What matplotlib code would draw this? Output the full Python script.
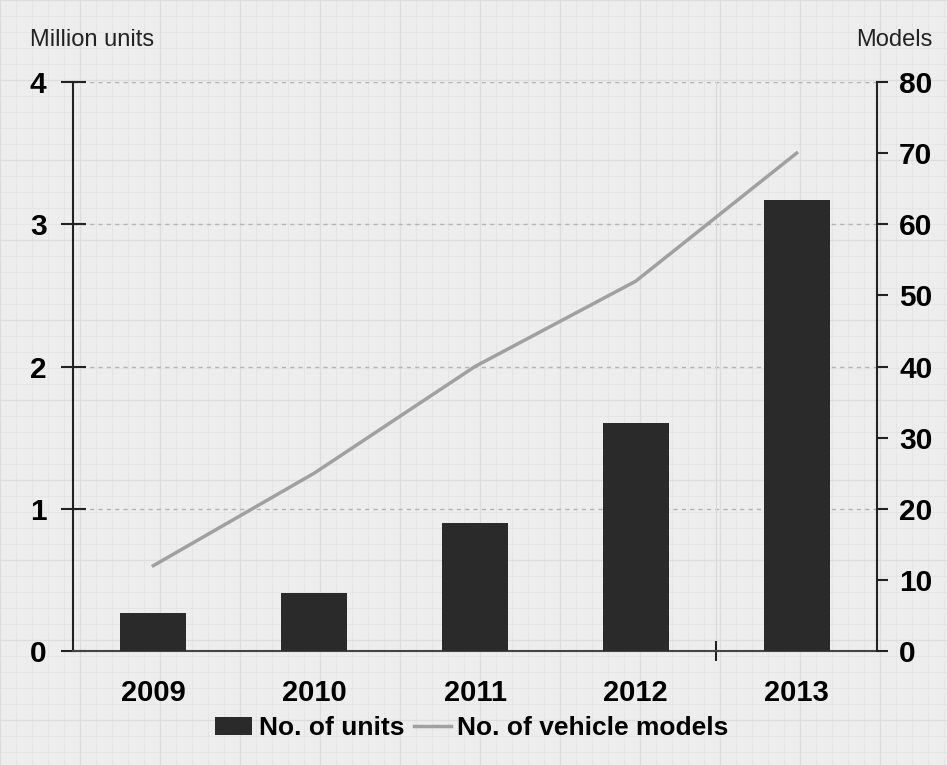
import matplotlib
matplotlib.use("Agg")
import matplotlib.pyplot as plt
import numpy as np
from matplotlib.patches import Patch
from matplotlib.lines import Line2D

years = ["2009", "2010", "2011", "2012", "2013"]
units = [0.27, 0.41, 0.90, 1.60, 3.17]
models = [12, 25, 40, 52, 70]
left_ticks = [0, 1, 2, 3, 4]
right_ticks = [0, 10, 20, 30, 40, 50, 60, 70, 80]

plt.rcParams['font.family'] = ['Liberation Sans', 'DejaVu Sans']

fig = plt.figure(figsize=(9.47, 7.65), dpi=100)
fig.patch.set_facecolor('#eeeeee')

# graph-paper background
bg = fig.add_axes([0, 0, 1, 1], zorder=-5)
bg.set_xlim(0, 947)
bg.set_ylim(765, 0)
bg.set_facecolor('#ededed')
for v in np.arange(0, 947, 16):
    bg.axvline(v, color='#e4e4e4', lw=0.6)
for v in np.arange(0, 765, 16):
    bg.axhline(v, color='#e4e4e4', lw=0.6)
for v in np.arange(0, 947, 80):
    bg.axvline(v, color='#dddddd', lw=0.9)
for v in np.arange(0, 765, 80):
    bg.axhline(v, color='#dddddd', lw=0.9)
bg.set_xticks([]); bg.set_yticks([])
for s in bg.spines.values():
    s.set_visible(False)

ax = fig.add_axes([73/947, 1-651/765, (877-73)/947, (651-82)/765])
ax.patch.set_alpha(0)
x = np.arange(len(years))
ax.bar(x, units, width=0.41, color='#2a2a2a', zorder=3)
ax.set_xlim(-0.5, 4.5)
ax.set_ylim(0, 4)
ax.set_yticks(left_ticks)
ax.set_yticklabels([str(t) for t in left_ticks], fontsize=21.5, fontweight='bold')
ax.set_xticks(x)
ax.set_xticklabels(years, fontsize=21, fontweight='bold')
ax.tick_params(axis='x', length=0, pad=20)
ax.set_xticks([3.5], minor=True)
ax.tick_params(axis='x', which='minor', direction='inout', length=14, width=1.5, color='#222222')
ax.tick_params(axis='y', direction='inout', length=18, width=1.5, color='#222222', pad=10)
for t in left_ticks[1:]:
    ax.axhline(t, color='#b4b4b4', lw=1.0, ls=(0, (3, 3)), zorder=1)
ax.axvline(3.5, color='#d8d8d8', lw=0.8, zorder=1)
ax.spines['top'].set_visible(False)
ax.spines['right'].set_visible(False)
ax.spines['left'].set_color('#222222')
ax.spines['left'].set_linewidth(1.5)
ax.spines['bottom'].set_color('#444444')
ax.spines['bottom'].set_linewidth(1.5)

ax2 = ax.twinx()
ax2.plot(x, models, color='#a0a0a0', lw=2.5, zorder=4)
ax2.set_ylim(0, 80)
ax2.set_yticks(right_ticks)
ax2.set_yticklabels([str(t) for t in right_ticks], fontsize=21.5, fontweight='bold')
ax2.tick_params(axis='y', direction='out', length=8, width=1.5, color='#222222', pad=8)
ax2.spines['top'].set_visible(False)
ax2.spines['left'].set_visible(False)
ax2.spines['bottom'].set_visible(False)
ax2.spines['right'].set_color('#222222')
ax2.spines['right'].set_linewidth(1.5)

fig.text(30/947, 1-40/765, "Million units", fontsize=17, va='center', ha='left', color='#222222')
fig.text(932/947, 1-40/765, "Models", fontsize=17, va='center', ha='right', color='#222222')

handles = [Patch(facecolor='#2a2a2a', edgecolor='none'),
           Line2D([0], [0], color='#a0a0a0', lw=2.5)]
fig.legend(handles, ["No. of units", "No. of vehicle models"], loc='center',
           bbox_to_anchor=(472/947, 1-728/765), ncol=2, frameon=False,
           prop={'size': 19, 'weight': 'bold'}, handlelength=1.4, handleheight=0.7,
           handletextpad=0.25, columnspacing=0.35)

fig.savefig("out.png", dpi=100, facecolor=fig.get_facecolor())
